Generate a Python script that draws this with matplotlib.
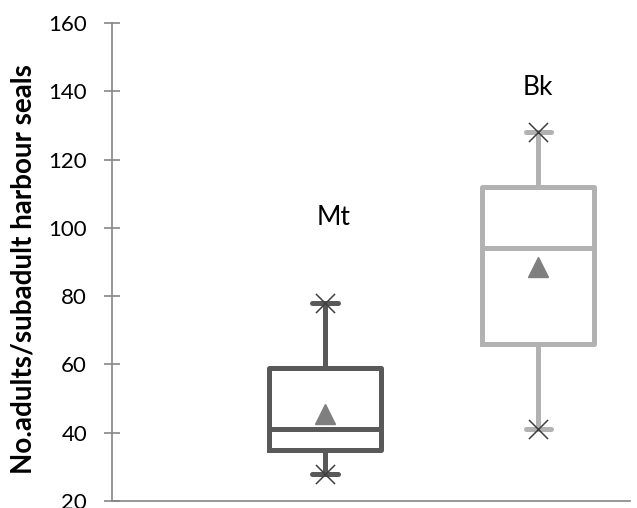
import matplotlib.pyplot as plt

# data
groups = ["Mt", "Bk"]
whislo = [28, 41]
q1 = [35, 66]
med = [41, 94]
q3 = [59, 112]
whishi = [78, 128]
means = [45.5, 88.5]
box_colors = ["#595959", "#b2b2b2"]
label_pos = [(1.04, 103), (2.0, 141)]

plt.rcParams['font.family'] = ['Lato', 'DejaVu Sans']

fig = plt.figure(figsize=(6.37, 5.08), dpi=100)
ax = fig.add_axes([0.176, 0.0138, 0.813, 0.941])

positions = [1, 2]
for i, g in enumerate(groups):
    stats = [dict(whislo=whislo[i], q1=q1[i], med=med[i], q3=q3[i],
                  whishi=whishi[i], mean=means[i], label=g)]
    c = box_colors[i]
    ax.bxp(stats, positions=[positions[i]], widths=0.525, capwidths=0.12,
           showmeans=True, showfliers=False,
           boxprops=dict(color=c, linewidth=3.6, solid_joinstyle='round'),
           whiskerprops=dict(color=c, linewidth=3.6),
           capprops=dict(color=c, linewidth=3.6, solid_capstyle='round'),
           medianprops=dict(color=c, linewidth=3.6),
           meanprops=dict(marker='^', markerfacecolor='#7f7f7f',
                          markeredgecolor='#7f7f7f', markersize=14))
    # extreme markers
    ax.scatter([positions[i]] * 2, [whislo[i], whishi[i]], marker='x',
               s=190, color='#404040', linewidths=1.1, zorder=5)
    ax.text(label_pos[i][0], label_pos[i][1], g, fontsize=19,
            ha='center', va='center')

ax.set_xlim(0, 2.43)
ax.set_ylim(20, 160)
ax.set_yticks(range(20, 161, 20))
ax.set_xticks([])
ax.tick_params(axis='y', direction='inout', length=12, width=1.2,
               color='#868686', labelsize=16, pad=12)
for s in ['top', 'right']:
    ax.spines[s].set_visible(False)
for s in ['left', 'bottom']:
    ax.spines[s].set_color('#868686')
    ax.spines[s].set_linewidth(1.2)
ax.set_ylabel("No.adults/subadult harbour seals", fontsize=20,
              fontweight='bold')
ax.yaxis.label.set_va('center')
ax.yaxis.set_label_coords(-0.172, 0.485)

fig.savefig("out.png", dpi=100)
